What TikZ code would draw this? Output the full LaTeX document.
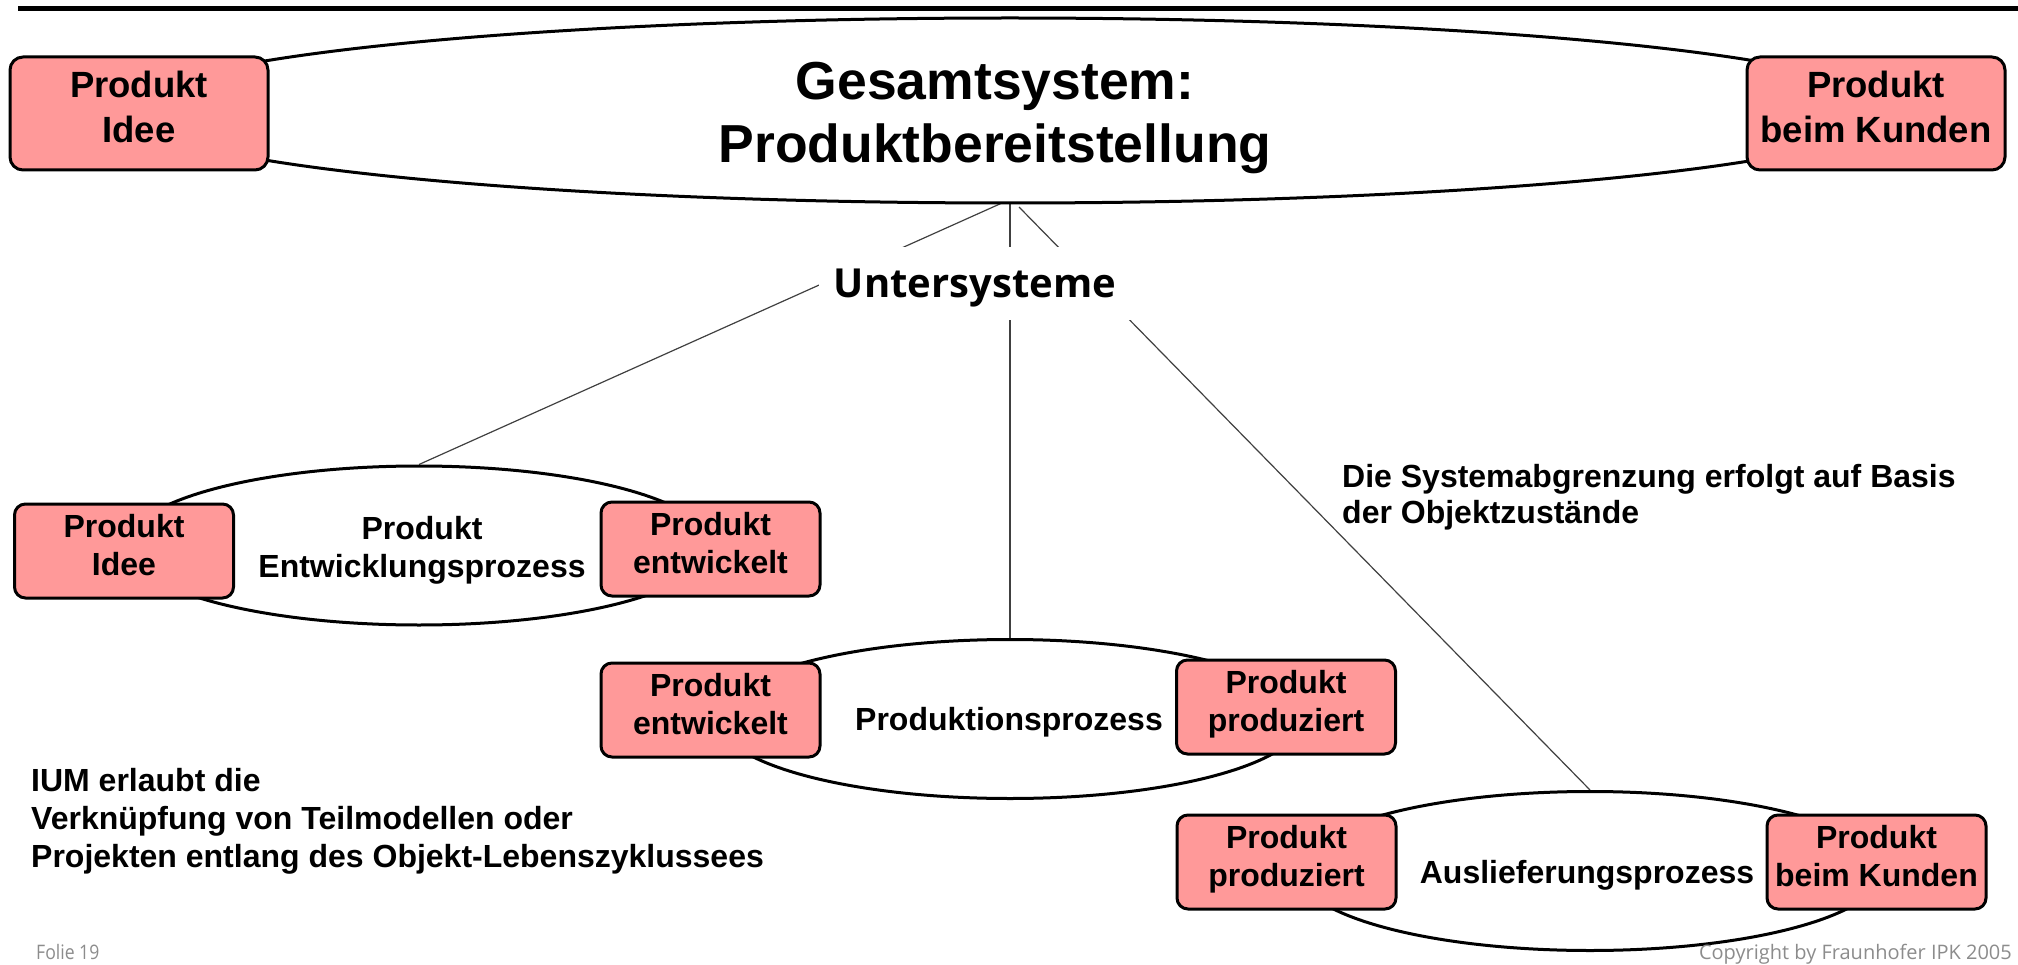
\documentclass[tikz,border=0pt]{standalone}
\usepackage{fontspec}
\setmainfont{Liberation Sans}
\newfontfamily\slidefont{Open Sans}
\usetikzlibrary{shapes.geometric,backgrounds}

\definecolor{boxred}{RGB}{255,153,153}
\definecolor{footgray}{RGB}{140,140,140}

% two centred lines with strut-based spacing
\newcommand\twolines[2]{\begin{tabular}{@{}c@{}}#1\\#2\end{tabular}}
% the same, lifted slightly inside a state box
\newcommand\boxlines[2]{\raisebox{2.5pt}[\height][\depth]{\twolines{#1}{#2}}}

\begin{document}
\begin{tikzpicture}[x=1pt,y=-1pt,
  titlefont/.style={font=\bfseries\fontsize{53.5}{63}\selectfont},
  bigfont/.style={font=\bfseries\fontsize{36.5}{45}\selectfont},
  smallfont/.style={font=\bfseries\fontsize{32}{38}\selectfont},
  footfont/.style={font=\slidefont\fontsize{20}{24}\selectfont, text=footgray, inner sep=0pt},
  statebox/.style={draw=black, line width=3pt, fill=boxred, inner sep=0pt},
  bigstate/.style={statebox, bigfont, rounded corners=13pt, minimum width=258pt, minimum height=113pt},
  smallstate/.style={statebox, smallfont, rounded corners=11pt, minimum width=219pt, minimum height=94pt},
  process/.style={ellipse, draw=black, line width=3pt, fill=white, inner sep=0pt},
  subproc/.style={process, minimum width=584pt, minimum height=159pt},
  link/.style={line width=1.2pt, black!75},
  plain/.style={inner sep=0pt},
]
\useasboundingbox (0,0) rectangle (2018,965);

% header rule
\draw[line width=5pt] (18,8.5) -- (2018,8.5);

% overall system
\node[process, minimum width=1764pt, minimum height=185pt] (E0) at (1010,110.5) {};
\node[titlefont, plain] (title) at (995,118.4) {\twolines{Gesamtsystem:}{Produktbereitstellung}};
\node[bigstate] (B1) at (139,113.5) {\boxlines{Produkt}{Idee}};
\node[bigstate] (B2) at (1876,113.5) {\boxlines{Produkt}{beim Kunden}};

% label of the subsystem level
\node[fill=white, minimum width=312pt, minimum height=73pt, inner sep=0pt,
      font=\slidefont\bfseries\fontsize{40}{48}\selectfont,
      text height=29pt, text depth=0pt] (sub) at (975,283.5) {Untersysteme};

% development process
\node[subproc] (E1) at (419,545.5) {};
\node[smallfont, plain] (L1) at (422,550.4) {\twolines{Produkt}{Entwicklungsprozess}};
\node[smallstate] (b3) at (124,551) {\boxlines{Produkt}{Idee}};
\node[smallstate] (b4) at (710.5,549) {\boxlines{Produkt}{entwickelt}};

% production process
\node[subproc] (E2) at (1010,719) {};
\node[smallfont, plain, anchor=base] (L2) at (1009,730) {Produktionsprozess};
\node[smallstate] (b5) at (710.5,710) {\boxlines{Produkt}{entwickelt}};
\node[smallstate] (b6) at (1286,707) {\boxlines{Produkt}{produziert}};

% delivery process
\node[subproc] (E3) at (1590,871) {};
\node[smallfont, plain, anchor=base] (L3) at (1587,883) {Auslieferungsprozess};
\node[smallstate] (b7) at (1286.5,862) {\boxlines{Produkt}{produziert}};
\node[smallstate] (b8) at (1876.5,862) {\boxlines{Produkt}{beim Kunden}};

% notes
\node[font=\bfseries\fontsize{32}{36}\selectfont, plain, anchor=base west] (note1) at (1342,487)
  {\begin{tabular}[t]{@{}l@{}}Die Systemabgrenzung erfolgt auf Basis\\der Objektzustände\end{tabular}};
\node[smallfont, plain, anchor=base west] (note2) at (31,791)
  {\begin{tabular}[t]{@{}l@{}}IUM erlaubt die\\Verknüpfung von Teilmodellen oder\\Projekten entlang des Objekt-Lebenszyklussees\end{tabular}};

% footer
\node[footfont, anchor=base west] (folie) at (36,959) {\scalebox{0.88}[1]{Folie 19}};
\node[footfont, anchor=base east] (copy) at (2012,959) {Copyright by Fraunhofer IPK 2005};

% decomposition links
\coordinate (s1) at (1002,203);
\coordinate (s2) at (1010,199);
\coordinate (s3) at (1019,207);
\begin{scope}[on background layer]
  \draw[link] (s1) -- (E1.north);
  \draw[link] (s2) -- (E2.north);
  \draw[link] (s3) -- (E3.north);
\end{scope}
\end{tikzpicture}
\end{document}
